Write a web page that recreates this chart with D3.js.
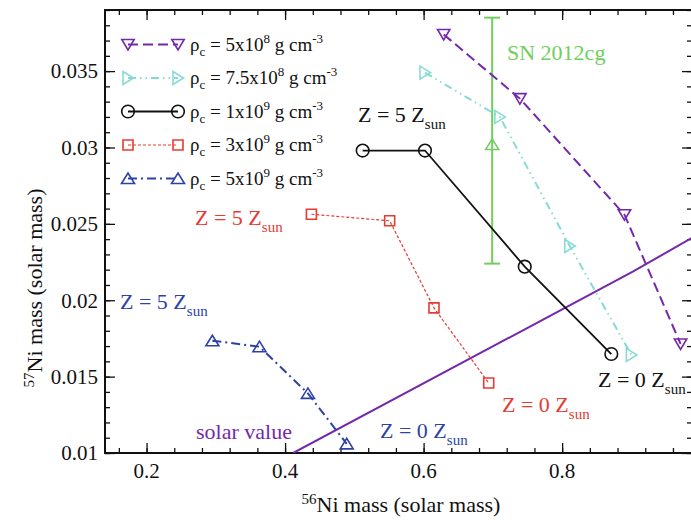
<!DOCTYPE html>
<html>
<head>
<meta charset="utf-8">
<script src="https://cdn.jsdelivr.net/npm/d3@7"></script>
<style>
  html, body { margin: 0; padding: 0; background: #fff; }
  svg { display: block; font-family: "Liberation Serif", "Times New Roman", serif; }
</style>
</head>
<body>
<svg id="chart" width="691" height="520"></svg>
<script>
// Central density models: 56Ni vs 57Ni yields, metallicity from 5 Z_sun down to 0 Z_sun
const ni56_rho5e8 = [0.629, 0.739, 0.890, 0.971];
const ni57_rho5e8 = [0.0374, 0.0332, 0.0256, 0.01714];

const ni56_rho75e8 = [0.602, 0.710, 0.811, 0.900];
const ni57_rho75e8 = [0.0349, 0.0320, 0.02355, 0.01642];

const ni56_rho1e9 = [0.512, 0.602, 0.746, 0.871];
const ni57_rho1e9 = [0.0298, 0.0298, 0.0222, 0.01648];

const ni56_rho3e9 = [0.438, 0.551, 0.615, 0.694];
const ni57_rho3e9 = [0.02563, 0.0252, 0.0195, 0.01458];

const ni56_rho5e9 = [0.295, 0.363, 0.433, 0.489];
const ni57_rho5e9 = [0.01735, 0.01696, 0.0139, 0.0106];

// Solar 57Ni/56Ni ratio line
const solarNi56 = [0.4117, 0.902, 0.99];
const solarNi57 = [0.01, 0.02187, 0.02415];

// SN 2012cg observation with error bar
const snName = "SN 2012cg";
const snNi56 = 0.699;
const snNi57 = 0.0302;
const snNi57Low = 0.0224;
const snNi57High = 0.0385;

// Axis ticks
const xTickLabels = [0.2, 0.4, 0.6, 0.8];
const yTickLabels = [0.01, 0.015, 0.02, 0.025, 0.03, 0.035];

const legendDensity = [
  { mant: "5", exp: "8" },
  { mant: "7.5", exp: "8" },
  { mant: "1", exp: "9" },
  { mant: "3", exp: "9" },
  { mant: "5", exp: "9" }
];

const series = [
  { xs: ni56_rho5e8,  ys: ni57_rho5e8,  color: "#7428ab", dash: "10,5",            width: 2,   marker: "down",  dens: legendDensity[0] },
  { xs: ni56_rho75e8, ys: ni57_rho75e8, color: "#86dbd5", dash: "8,4,1.5,4,1.5,4", width: 2,   marker: "right", dens: legendDensity[1] },
  { xs: ni56_rho1e9,  ys: ni57_rho1e9,  color: "#111111", dash: null,              width: 1.8, marker: "circle",dens: legendDensity[2] },
  { xs: ni56_rho3e9,  ys: ni57_rho3e9,  color: "#e63b32", dash: "3,2",             width: 1.2, marker: "square",dens: legendDensity[3] },
  { xs: ni56_rho5e9,  ys: ni57_rho5e9,  color: "#2e42a6", dash: "9,4,2,4",         width: 2,   marker: "up",    dens: legendDensity[4] }
];

const svg = d3.select("#chart");
const pLeft = 105, pRight = 692, pTop = 10, pBottom = 453;

const x = d3.scaleLinear().domain([0.14, 0.9875]).range([pLeft, pRight]);
const y = d3.scaleLinear().domain([0.01, 0.039]).range([pBottom, pTop]);

svg.append("defs").append("clipPath").attr("id", "plot-clip")
  .append("rect").attr("x", pLeft).attr("y", pTop).attr("width", pRight - pLeft).attr("height", pBottom - pTop);

// Marker shapes (outlined, centred on the point)
function markerPath(type) {
  switch (type) {
    case "down":  return "M-6.2,-5 L6.2,-5 L0,5.5 Z";
    case "up":    return "M-6.5,5 L6.5,5 L0,-5.5 Z";
    case "right": return "M-5,-6.5 L-5,6.5 L5.5,0 Z";
    case "square":return "M-5,-5 L5,-5 L5,5 L-5,5 Z";
    default:      return d3.symbol(d3.symbolCircle, Math.PI * 6.3 * 6.3)();
  }
}

// Axes: inward ticks on all four sides
const xMajor = d3.range(0.2, 1.0, 0.2);
const xMinor = d3.range(0.16, 0.99, 0.04);
const yMinor = d3.range(0.01, 0.0391, 0.001);
const yMajor = d3.range(0.01, 0.0391, 0.005);

function addAxis(axisFn, scale, vals, size, transform) {
  const g = svg.append("g").attr("transform", transform)
    .call(axisFn(scale).tickValues(vals).tickSize(size).tickFormat(""));
  g.select(".domain").remove();
  g.selectAll("line").attr("stroke", "#111").attr("stroke-width", 1.3);
  return g;
}
addAxis(d3.axisTop,    x, xMinor, 5,  `translate(0,${pBottom})`);
addAxis(d3.axisTop,    x, xMajor, 10, `translate(0,${pBottom})`);
addAxis(d3.axisBottom, x, xMinor, 5,  `translate(0,${pTop})`);
addAxis(d3.axisBottom, x, xMajor, 10, `translate(0,${pTop})`);
addAxis(d3.axisRight,  y, yMinor, 5,  `translate(${pLeft},0)`);
addAxis(d3.axisRight,  y, yMajor, 10, `translate(${pLeft},0)`);
addAxis(d3.axisLeft,   y, yMinor, 5,  `translate(${pRight},0)`);
addAxis(d3.axisLeft,   y, yMajor, 10, `translate(${pRight},0)`);

svg.append("rect").attr("x", pLeft).attr("y", pTop)
  .attr("width", pRight - pLeft).attr("height", pBottom - pTop)
  .attr("fill", "none").attr("stroke", "#111").attr("stroke-width", 2);

// Tick labels
svg.append("g").selectAll("text").data(xTickLabels).join("text")
  .attr("x", d => x(d)).attr("y", 478)
  .attr("text-anchor", "middle").attr("font-size", 21).attr("fill", "#111")
  .text(d => d3.format(".1f")(d));

svg.append("g").selectAll("text").data(yTickLabels).join("text")
  .attr("x", 98).attr("y", d => y(d)).attr("dy", "0.35em")
  .attr("text-anchor", "end").attr("font-size", 21).attr("fill", "#111")
  .text(d => String(d));

// Axis titles
const xt = svg.append("text").attr("x", 401).attr("y", 512)
  .attr("text-anchor", "middle").attr("font-size", 22).attr("fill", "#111");
xt.append("tspan").attr("font-size", 15).attr("dy", -8).text("56");
xt.append("tspan").attr("dy", 8).text("Ni mass (solar mass)");

const yt = svg.append("text").attr("transform", "translate(42,288) rotate(-90)")
  .attr("text-anchor", "middle").attr("font-size", 22).attr("fill", "#111");
yt.append("tspan").attr("font-size", 15).attr("dy", -8).text("57");
yt.append("tspan").attr("dy", 8).text("Ni mass (solar mass)");

const plot = svg.append("g").attr("clip-path", "url(#plot-clip)");

// Solar value line
plot.append("path")
  .attr("d", d3.line().x(d => x(d[0])).y(d => y(d[1]))(d3.zip(solarNi56, solarNi57)))
  .attr("fill", "none").attr("stroke", "#7428ab").attr("stroke-width", 2);

// SN 2012cg error bar
const snColor = "#6fcf5c";
plot.append("line").attr("x1", x(snNi56)).attr("x2", x(snNi56))
  .attr("y1", y(snNi57High)).attr("y2", y(snNi57Low))
  .attr("stroke", snColor).attr("stroke-width", 2);
[snNi57High, snNi57Low].forEach(v => {
  plot.append("line").attr("x1", x(snNi56) - 8).attr("x2", x(snNi56) + 8)
    .attr("y1", y(v)).attr("y2", y(v)).attr("stroke", snColor).attr("stroke-width", 2);
});
plot.append("path").attr("d", markerPath("up"))
  .attr("transform", `translate(${x(snNi56)},${y(snNi57)})`)
  .attr("fill", "none").attr("stroke", snColor).attr("stroke-width", 1.6);
svg.append("text").attr("x", 507).attr("y", 60).attr("font-size", 22)
  .attr("fill", snColor).text(snName);

// Model series
series.forEach(s => {
  const pts = d3.zip(s.xs, s.ys);
  plot.append("path")
    .attr("d", d3.line().x(d => x(d[0])).y(d => y(d[1]))(pts))
    .attr("fill", "none").attr("stroke", s.color).attr("stroke-width", s.width)
    .attr("stroke-dasharray", s.dash);
  plot.append("g").selectAll("path").data(pts).join("path")
    .attr("d", markerPath(s.marker))
    .attr("transform", d => `translate(${x(d[0])},${y(d[1])})`)
    .attr("fill", "none").attr("stroke", s.color).attr("stroke-width", 1.6);
});

// Metallicity annotations
function zLabel(px, py, value, color) {
  const t = svg.append("text").attr("x", px).attr("y", py).attr("font-size", 22).attr("fill", color);
  t.append("tspan").text(`Z = ${value} Z`);
  t.append("tspan").attr("font-size", 15).attr("dy", 7).text("sun");
}
zLabel(358, 122, 5, "#111111");
zLabel(195, 225, 5, "#e63b32");
zLabel(120, 309, 5, "#2e42a6");
zLabel(598, 387, 0, "#111111");
zLabel(502, 412, 0, "#e63b32");
zLabel(380, 438, 0, "#2e42a6");

svg.append("text").attr("x", 196).attr("y", 439).attr("font-size", 22)
  .attr("fill", "#7428ab").text("solar value");

// Legend
const legY0 = 44.5, legDY = 33.5;
series.forEach((s, i) => {
  const ly = legY0 + i * legDY;
  svg.append("line").attr("x1", 128).attr("x2", 178).attr("y1", ly).attr("y2", ly)
    .attr("stroke", s.color).attr("stroke-width", s.width).attr("stroke-dasharray", s.dash);
  [128, 178].forEach(mx => {
    svg.append("path").attr("d", markerPath(s.marker))
      .attr("transform", `translate(${mx},${ly})`)
      .attr("fill", "none").attr("stroke", s.color).attr("stroke-width", 1.6);
  });
  const t = svg.append("text").attr("x", 190).attr("y", ly + 6).attr("font-size", 19).attr("fill", "#111");
  t.append("tspan").text("ρ");
  t.append("tspan").attr("font-size", 13).attr("dy", 5).text("c");
  t.append("tspan").attr("dy", -5).text(` = ${s.dens.mant}x10`);
  t.append("tspan").attr("font-size", 13).attr("dy", -8).text(s.dens.exp);
  t.append("tspan").attr("dy", 8).text(" g cm");
  t.append("tspan").attr("font-size", 13).attr("dy", -8).text("-3");
});
</script>
</body>
</html>
